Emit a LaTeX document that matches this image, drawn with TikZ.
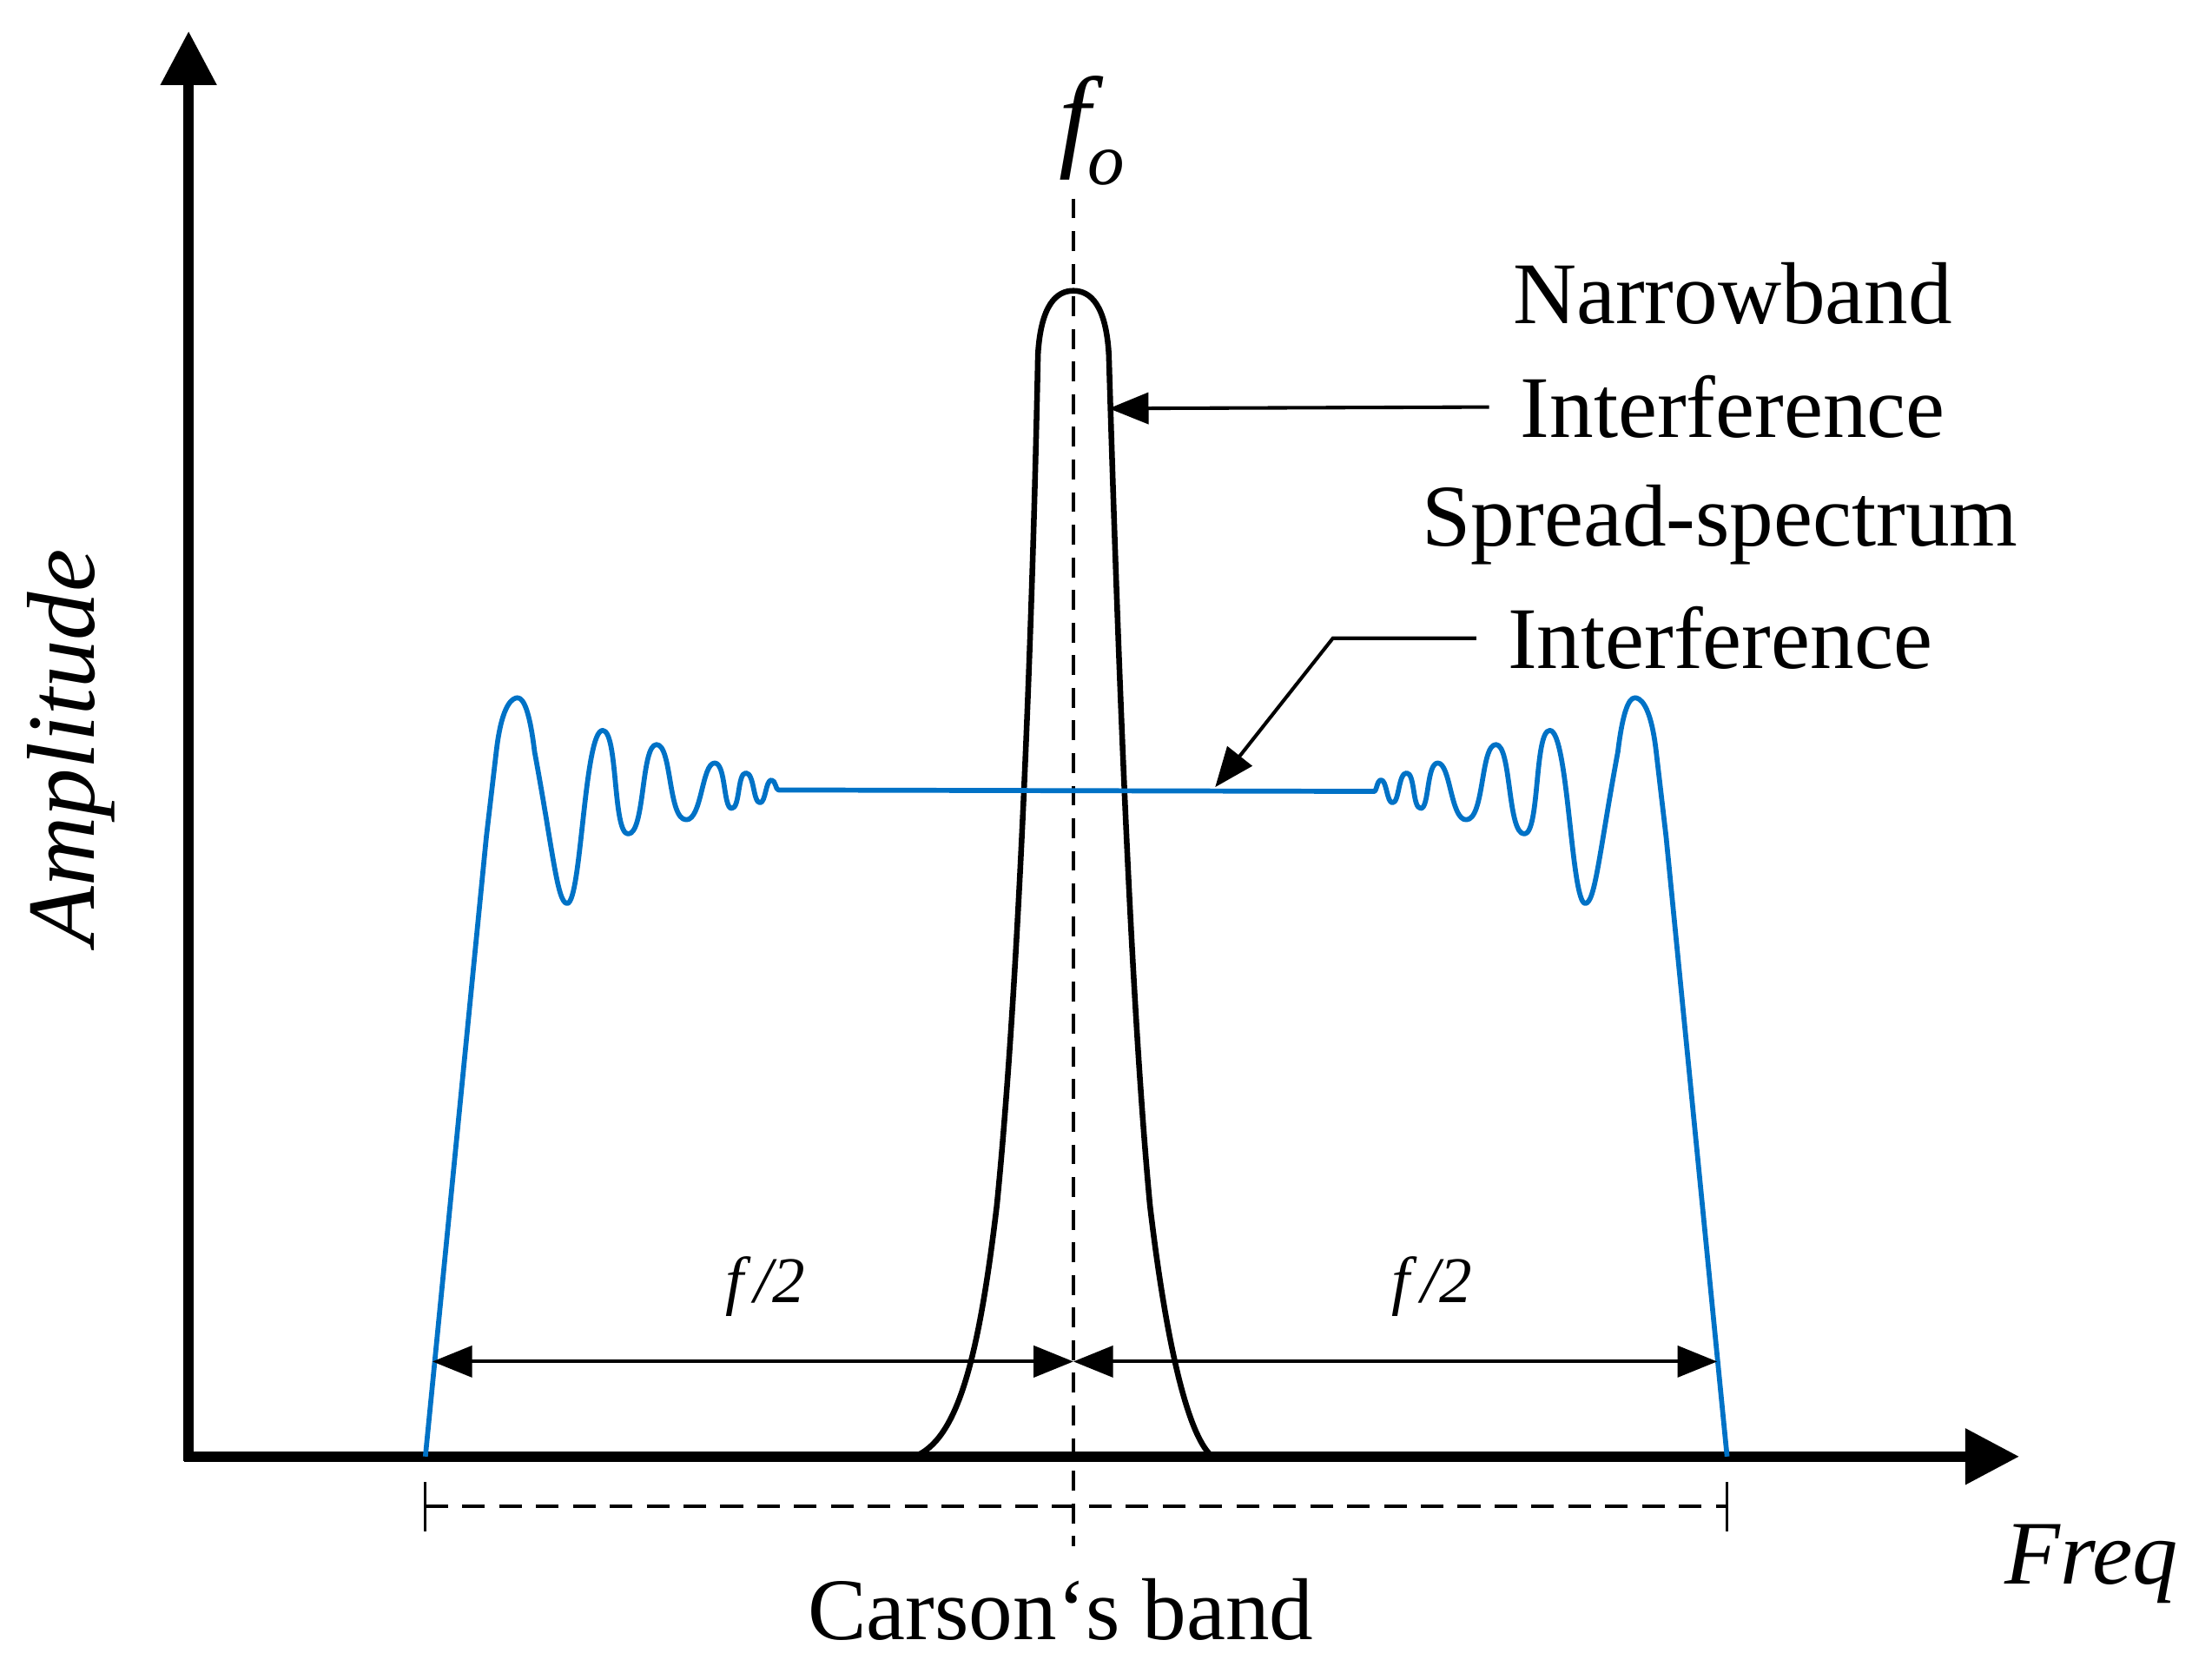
\documentclass[tikz,border=0pt]{standalone}
\usepackage{fontspec}
\setmainfont{Liberation Serif}
\usetikzlibrary{arrows.meta}
\begin{document}
\begin{tikzpicture}[x=1pt,y=-1pt,
  axis/.style={line width=7pt,-{Triangle[length=38pt,width=38pt]}},
  blue line/.style={line width=3.5pt,color={rgb,255:red,0;green,114;blue,198},line join=round},
  pulse/.style={line width=4pt,line join=round},
  lbl/.style={font=\fontsize{62}{70}\selectfont,inner sep=0pt},
  dim/.style={line width=2.5pt,{Triangle[length=28pt,width=22pt]}-{Triangle[length=28pt,width=22pt]}},
  ptr/.style={line width=2.5pt,-{Triangle[length=28pt,width=22pt]}}]
\useasboundingbox (0,0) rectangle (1560,1170);
% axes
\coordinate (O) at (133,1027);
\coordinate (Ytop) at (133,22);
\coordinate (Xend) at (1424,1027);
\draw[axis] (133,1030) -- (Ytop);
\draw[axis] (130,1027) -- (Xend);
% center dashed
\coordinate (c1) at (757,140);
\coordinate (c2) at (757,1090);
\draw[line width=2pt,dash pattern=on 14pt off 9pt] (c1) -- (c2);
% narrowband pulse
\draw[pulse] (645,1027) .. controls (675,1015) and (690,960) .. (703,850)
  .. controls (718,700) and (728,450) .. (732,250)
  .. controls (734,215) and (745,205) .. (757,205)
  .. controls (769,205) and (780,215) .. (782,250)
  .. controls (788,450) and (797,700) .. (811,850)
  .. controls (824,960) and (840,1015) .. (855,1027);
% spread spectrum
\draw[blue line] (300,1027) -- (343,590) -- (350,530)
  .. controls (354,495) and (362,492) .. (365,492)
  .. controls (370,492) and (374,505) .. (377,530)
  .. controls (390,600) and (393,637) .. (400,637)
  .. controls (410,637) and (412,515) .. (425,515)
  .. controls (436,515) and (432,588) .. (443,588)
  .. controls (455,588) and (452,525) .. (463,525)
  .. controls (474,525) and (471,578) .. (484,578)
  .. controls (495,578) and (495,538) .. (504,538)
  .. controls (512,538) and (510,570) .. (516,570)
  .. controls (522,570) and (520,545) .. (526,545)
  .. controls (532,545) and (531,566) .. (536,566)
  .. controls (540,566) and (540,550) .. (544,550)
  .. controls (547,550) and (547,557) .. (549,557)
  -- (969,558)
  .. controls (971,558) and (971,550) .. (974,550)
  .. controls (978,550) and (978,566) .. (982,566)
  .. controls (987,566) and (986,545) .. (992,545)
  .. controls (998,545) and (996,570) .. (1002,570)
  .. controls (1008,570) and (1006,538) .. (1014,538)
  .. controls (1023,538) and (1023,578) .. (1034,578)
  .. controls (1047,578) and (1044,525) .. (1055,525)
  .. controls (1066,525) and (1063,588) .. (1075,588)
  .. controls (1086,588) and (1082,515) .. (1093,515)
  .. controls (1106,515) and (1108,637) .. (1118,637)
  .. controls (1125,637) and (1128,600) .. (1141,530)
  .. controls (1144,505) and (1148,492) .. (1153,492)
  .. controls (1156,492) and (1164,495) .. (1168,530)
  -- (1175,590) -- (1218,1027);
% labels
\node[lbl] (nb1) at (1222,207) {Narrowband};
\node[lbl] (nb2) at (1222,287) {Interference};
\node[lbl] (ss1) at (1213,370) {Spread-spectrum};
\node[lbl] (ss2) at (1213,450) {Interference};
\coordinate (nbtip) at (782,288);
\draw[ptr] (nb2.west) ++(-22,0) coordinate (nbs) -- (nbtip);
\coordinate (sstip) at (857,555);
\coordinate (ssbend) at (940,450);
\draw[ptr] (ss2.west) ++(-22,0) -- (ssbend) -- (sstip);
\node[font=\fontsize{80}{90}\selectfont\itshape,inner sep=0pt] (fo) at (770,92) {f\kern-2pt\raisebox{-0.25em}{\fontsize{52}{60}\selectfont o}};
\node[lbl,font=\fontsize{68}{76}\selectfont\itshape,rotate=90] (amp) at (50,527) {Amplitude};
\node[lbl,font=\fontsize{64}{72}\selectfont\itshape] (freq) at (1475,1103) {Freq};
\node[lbl] (cb) at (748,1135) {Carson‘s band};
% dimension arrows
\coordinate (dl) at (305,960);
\coordinate (dm) at (757,960);
\coordinate (dr) at (1211,960);
\draw[dim] (dl) -- (dm);
\draw[dim] (dm) -- (dr);
\node[font=\fontsize{46}{52}\selectfont\itshape,inner sep=0pt] (d1) at (522,907) {$\mathit{\Delta}$f\,/2};
\node[font=\fontsize{46}{52}\selectfont\itshape,inner sep=0pt] (d2) at (992,907) {$\mathit{\Delta}$f\,/2};
% Carson band
\coordinate (cbl) at (300,1062);
\coordinate (cbr) at (1218,1062);
\draw[line width=2pt,dash pattern=on 16pt off 10pt] (cbl) -- (cbr);
\draw[line width=2pt] (300,1045) -- (300,1080) (1218,1045) -- (1218,1080);
\end{tikzpicture}
\end{document}
